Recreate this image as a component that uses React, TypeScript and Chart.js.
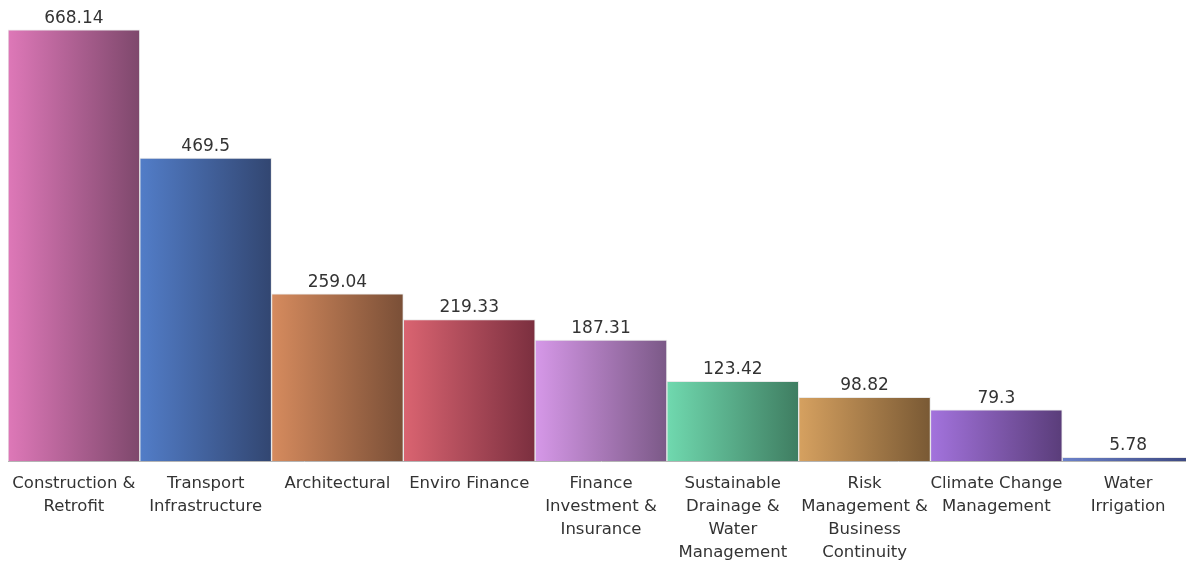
import React, { useEffect, useRef } from "react";
import { Chart, registerables } from "chart.js";

Chart.register(...registerables);

const categories: string[][] = [
  ["Construction &", "Retrofit"],
  ["Transport", "Infrastructure"],
  ["Architectural"],
  ["Enviro Finance"],
  ["Finance", "Investment &", "Insurance"],
  ["Sustainable", "Drainage &", "Water", "Management"],
  ["Risk", "Management &", "Business", "Continuity"],
  ["Climate Change", "Management"],
  ["Water", "Irrigation"],
];

const values: number[] = [668.14, 469.5, 259.04, 219.33, 187.31, 123.42, 98.82, 79.3, 5.78];

const lightColors: string[] = ["#de78b8", "#527dc8", "#d68b5e", "#da6471", "#d698e8", "#70d9af", "#d6a160", "#a373dd", "#6c82ca"];
const darkColors: string[] = ["#7e486c", "#324671", "#7a4f37", "#7b2f3f", "#7b5987", "#3f7d61", "#795934", "#5a3d7a", "#3b467e"];

const FONT = "'DejaVu Sans', sans-serif";

const gradientBars = {
  id: "gradientBars",
  beforeDatasetsDraw(chart: any) {
    const ctx = chart.ctx;
    const meta = chart.getDatasetMeta(0);
    meta.data.forEach((bar: any, i: number) => {
      const g = ctx.createLinearGradient(bar.x - bar.width / 2, 0, bar.x + bar.width / 2, 0);
      g.addColorStop(0, lightColors[i]);
      g.addColorStop(1, darkColors[i]);
      bar.options.backgroundColor = g;
    });
  },
};

const valueLabels = {
  id: "valueLabels",
  afterDatasetsDraw(chart: any) {
    const ctx = chart.ctx;
    const meta = chart.getDatasetMeta(0);
    ctx.save();
    ctx.font = `17px ${FONT}`;
    ctx.fillStyle = "#333333";
    ctx.textAlign = "center";
    ctx.textBaseline = "bottom";
    meta.data.forEach((bar: any, i: number) => {
      ctx.fillText(String(values[i]), bar.x, bar.y - 3);
    });
    ctx.restore();
  },
};

export default function App() {
  const ref = useRef<HTMLCanvasElement>(null);
  useEffect(() => {
    if (!ref.current) return;
    const chart = new Chart(ref.current, {
      type: "bar",
      data: {
        labels: categories,
        datasets: [
          {
            data: values,
            backgroundColor: lightColors,
            borderColor: "rgba(220,220,220,0.6)",
            borderWidth: 1,
            barPercentage: 1,
            categoryPercentage: 1,
          },
        ],
      },
      options: {
        animation: false,
        responsive: true,
        maintainAspectRatio: false,
        layout: { padding: 0 },
        plugins: { legend: { display: false }, tooltip: { enabled: false } },
        scales: {
          x: {
            grid: { display: false, drawTicks: false },
            border: { display: true, color: "#b4b4b4", width: 1 },
            ticks: {
              color: "#333333",
              font: { family: FONT, size: 16.5, lineHeight: 1.4 },
              padding: 11,
              maxRotation: 0,
              autoSkip: false,
            },
            afterFit: (s: any) => {
              s.height = 102;
              s.paddingLeft = 0;
              s.paddingRight = 0;
            },
          },
          y: {
            display: false,
            min: 0,
            max: 702,
          },
        },
      },
      plugins: [gradientBars, valueLabels],
    });
    return () => chart.destroy();
  }, []);
  return (
    <div style={{ position: "fixed", left: 8, top: 8, width: 1186, height: 555 }}>
      <canvas ref={ref} />
    </div>
  );
}
